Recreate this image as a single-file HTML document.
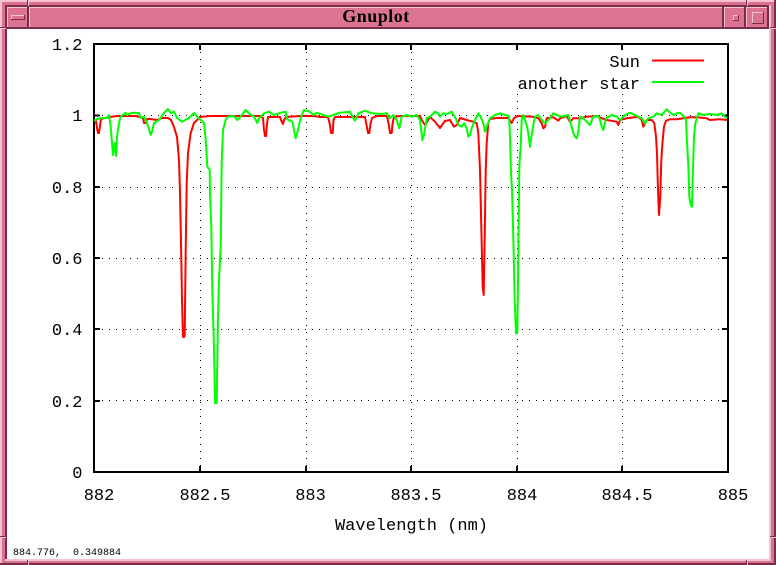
<!DOCTYPE html>
<html>
<head>
<meta charset="utf-8">
<style>
html,body{margin:0;padding:0;background:#fff;}
body{width:776px;height:565px;overflow:hidden;}
svg{display:block;}
.mono{font-family:"Liberation Mono","DejaVu Sans Mono",monospace;}
</style>
</head>
<body>
<svg width="776" height="565" viewBox="0 0 776 565" xmlns="http://www.w3.org/2000/svg">
  <!-- window frame -->
  <g shape-rendering="crispEdges">
    <rect x="0" y="0" width="776" height="565" fill="#d9718f"/>
    <rect x="0" y="0" width="776" height="2" fill="#f5c3d2"/>
    <rect x="0" y="0" width="2" height="565" fill="#f5c3d2"/>
    <rect x="0" y="563" width="776" height="2" fill="#7a2d48"/>
    <rect x="774" y="0" width="2" height="565" fill="#7a2d48"/>
    <rect x="5" y="5" width="765" height="2" fill="#7a2d48"/>
    <rect x="5" y="5" width="2" height="556" fill="#7a2d48"/>
    <rect x="769" y="5" width="2" height="556" fill="#f5c3d2"/>
    <rect x="5" y="559" width="766" height="2" fill="#f5c3d2"/>
    <rect x="27" y="0" width="1" height="6" fill="#7a2d48"/><rect x="28" y="0" width="1" height="6" fill="#f5c3d2"/>
    <rect x="746" y="0" width="1" height="6" fill="#7a2d48"/><rect x="747" y="0" width="1" height="6" fill="#f5c3d2"/>
    <rect x="0" y="27" width="6" height="1" fill="#7a2d48"/><rect x="0" y="28" width="6" height="1" fill="#f5c3d2"/>
    <rect x="770" y="27" width="6" height="1" fill="#7a2d48"/><rect x="770" y="28" width="6" height="1" fill="#f5c3d2"/>
    <rect x="0" y="536" width="6" height="1" fill="#7a2d48"/><rect x="0" y="537" width="6" height="1" fill="#f5c3d2"/>
    <rect x="770" y="536" width="6" height="1" fill="#7a2d48"/><rect x="770" y="537" width="6" height="1" fill="#f5c3d2"/>
    <rect x="27" y="560" width="1" height="5" fill="#7a2d48"/><rect x="28" y="560" width="1" height="5" fill="#f5c3d2"/>
    <rect x="746" y="560" width="1" height="5" fill="#7a2d48"/><rect x="747" y="560" width="1" height="5" fill="#f5c3d2"/>

    <rect x="7" y="7" width="22" height="22" fill="#dc7391"/>
    <rect x="7" y="7" width="22" height="1" fill="#f5c3d2"/>
    <rect x="7" y="7" width="1" height="22" fill="#f5c3d2"/>
    <rect x="7" y="27" width="22" height="2" fill="#7a2d48"/>
    <rect x="27" y="7" width="2" height="22" fill="#7a2d48"/>
    <rect x="11" y="15" width="14" height="5" fill="#dc7391"/>
    <rect x="11" y="15" width="14" height="1" fill="#f5c3d2"/>
    <rect x="11" y="15" width="1" height="5" fill="#f5c3d2"/>
    <rect x="11" y="19" width="14" height="1" fill="#7a2d48"/>
    <rect x="24" y="15" width="1" height="5" fill="#7a2d48"/>
    <rect x="29" y="7" width="695" height="22" fill="#dc7391"/>
    <rect x="29" y="7" width="695" height="1" fill="#f5c3d2"/>
    <rect x="29" y="7" width="1" height="22" fill="#f5c3d2"/>
    <rect x="29" y="27" width="695" height="2" fill="#7a2d48"/>
    <rect x="722" y="7" width="2" height="22" fill="#7a2d48"/>
    <rect x="724" y="7" width="22" height="22" fill="#dc7391"/>
    <rect x="724" y="7" width="22" height="1" fill="#f5c3d2"/>
    <rect x="724" y="7" width="1" height="22" fill="#f5c3d2"/>
    <rect x="724" y="27" width="22" height="2" fill="#7a2d48"/>
    <rect x="744" y="7" width="2" height="22" fill="#7a2d48"/>
    <rect x="733" y="15" width="6" height="6" fill="#dc7391"/>
    <rect x="733" y="15" width="6" height="1" fill="#f5c3d2"/>
    <rect x="733" y="15" width="1" height="6" fill="#f5c3d2"/>
    <rect x="733" y="20" width="6" height="1" fill="#7a2d48"/>
    <rect x="738" y="15" width="1" height="6" fill="#7a2d48"/>
    <rect x="746" y="7" width="23" height="22" fill="#dc7391"/>
    <rect x="746" y="7" width="23" height="1" fill="#f5c3d2"/>
    <rect x="746" y="7" width="1" height="22" fill="#f5c3d2"/>
    <rect x="746" y="27" width="23" height="2" fill="#7a2d48"/>
    <rect x="767" y="7" width="2" height="22" fill="#7a2d48"/>
    <rect x="752" y="12" width="12" height="12" fill="#dc7391"/>
    <rect x="752" y="12" width="12" height="1" fill="#f5c3d2"/>
    <rect x="752" y="12" width="1" height="12" fill="#f5c3d2"/>
    <rect x="752" y="23" width="12" height="1" fill="#7a2d48"/>
    <rect x="763" y="12" width="1" height="12" fill="#7a2d48"/>

    <rect x="7" y="29" width="762" height="530" fill="#ffffff"/>
  </g>
  <text x="376" y="22" text-anchor="middle" font-family="Liberation Serif, serif" font-weight="bold" font-size="18" letter-spacing="0.5" fill="#000">Gnuplot</text>

  <!-- grid -->
  <g stroke="#000" stroke-width="1" stroke-dasharray="1 6" shape-rendering="crispEdges" fill="none">
    <line x1="95" y1="115.5" x2="727" y2="115.5"/>
    <line x1="95" y1="187.5" x2="727" y2="187.5"/>
    <line x1="95" y1="258.5" x2="727" y2="258.5"/>
    <line x1="95" y1="329.5" x2="727" y2="329.5"/>
    <line x1="95" y1="400.5" x2="727" y2="400.5"/>
    <line x1="200.5" y1="45" x2="200.5" y2="471"/>
    <line x1="306.5" y1="45" x2="306.5" y2="471"/>
    <line x1="411.5" y1="45" x2="411.5" y2="471"/>
    <line x1="517.5" y1="45" x2="517.5" y2="471"/>
    <line x1="622.5" y1="45" x2="622.5" y2="471"/>
  </g>
  <rect x="505" y="51" width="221" height="40" fill="#fff"/>

  <rect x="94" y="44" width="634" height="428" fill="none" stroke="#000" stroke-width="2" shape-rendering="crispEdges"/>
  <g stroke="#000" stroke-width="2" shape-rendering="crispEdges">
    <line x1="94" y1="115.5" x2="100" y2="115.5"/><line x1="722" y1="115.5" x2="728" y2="115.5"/>
    <line x1="94" y1="187" x2="100" y2="187"/><line x1="722" y1="187" x2="728" y2="187"/>
    <line x1="94" y1="258" x2="100" y2="258"/><line x1="722" y1="258" x2="728" y2="258"/>
    <line x1="94" y1="329" x2="100" y2="329"/><line x1="722" y1="329" x2="728" y2="329"/>
    <line x1="94" y1="401" x2="100" y2="401"/><line x1="722" y1="401" x2="728" y2="401"/>
    <line x1="200" y1="44" x2="200" y2="50"/><line x1="200" y1="466" x2="200" y2="472"/>
    <line x1="306" y1="44" x2="306" y2="50"/><line x1="306" y1="466" x2="306" y2="472"/>
    <line x1="411" y1="44" x2="411" y2="50"/><line x1="411" y1="466" x2="411" y2="472"/>
    <line x1="517" y1="44" x2="517" y2="50"/><line x1="517" y1="466" x2="517" y2="472"/>
    <line x1="622" y1="44" x2="622" y2="50"/><line x1="622" y1="466" x2="622" y2="472"/>
  </g>

  <g class="mono" font-size="17" fill="#000" text-anchor="end">
    <text x="82.5" y="50">1.2</text>
    <text x="82.5" y="121">1</text>
    <text x="82.5" y="193">0.8</text>
    <text x="82.5" y="264">0.6</text>
    <text x="82.5" y="335">0.4</text>
    <text x="82.5" y="407">0.2</text>
    <text x="82.5" y="478">0</text>
  </g>
  <g class="mono" font-size="17" fill="#000" text-anchor="middle">
    <text x="99" y="500">882</text>
    <text x="205" y="500">882.5</text>
    <text x="310.5" y="500">883</text>
    <text x="416" y="500">883.5</text>
    <text x="522" y="500">884</text>
    <text x="627" y="500">884.5</text>
    <text x="733" y="500">885</text>
    <text x="411.5" y="530">Wavelength (nm)</text>
  </g>

  <g class="mono" font-size="17" fill="#000" text-anchor="end">
    <text x="640" y="67">Sun</text>
    <text x="640" y="89">another star</text>
  </g>
  <line x1="652" y1="60.5" x2="704" y2="60.5" stroke="#ff0000" stroke-width="2"/>
  <line x1="652" y1="82" x2="704" y2="82" stroke="#00ff00" stroke-width="2"/>

  <polyline fill="none" stroke="#ff0000" stroke-width="2" stroke-linejoin="round" points="94,120 96,121 97,128 98,133 99,133 100,126 101,119 105,118 110,117 117,116 125,116 135,116 140,117 143,118 144,123 146,123 147,119 150,119 157,120 162,118 168,118 171,120 174,127 177,137 179,160 180,193 181,243 182,300 183,337 184,337 184.7,335 185.7,250 186.7,183 188,153 190.7,133 194,123 200,117 210,116 230,116 250,116 260,116 263,118 264,130 265,136 266,136 267,124 268,117 280,117 281,120 283,124 284,120 286,117 300,116 314,116 320,117 328,117 330,125 331,133 332.7,133 333.5,120 335,117 360,117 365,117 366.7,126 368,133 369.3,133 370.5,124 372,118 377,116 387,116 389,126 390,133 391.7,133 392.5,124 394,117 400,116 420,116 421.7,120 425,125 430,117 435,121.7 440,128 445,121 450,120 454,126.7 456.7,125 460,118 466.7,120 473.3,121.7 476.7,123.3 478.3,133 480,170 481.3,227 482.7,287 483.7,295 484.7,237 485.7,170 486.7,143 488.3,123 490,119 496.7,118 508.3,118 511.7,123 514,118 518.3,116 533,116.7 538.3,118.3 541.7,123.3 543.3,128.3 545,127 546.7,118.3 553.3,117.3 558.3,120.7 560,118.3 566.7,116 570,121.7 573.3,118.3 580,118.3 586.7,116.7 596.7,116 601.7,118.3 606.7,120 616.7,121.7 618.3,125 620,120 626.7,118.3 638.3,116.7 641.7,120 643.3,126.7 645,123.3 646.7,120 651.7,120 654.3,123.3 656,136.7 657,153.3 658,190 659,215 660.3,196.7 661.3,160 662.7,140 664,126.7 666,120.7 670,119.3 676.7,119.3 683.3,118.3 690,117.3 696.7,117.3 706.7,118.3 710,120 720,119.3 727,120"/>

  <polyline fill="none" stroke="#00ff00" stroke-width="2" stroke-linejoin="round" points="94,120.7 97,119 102,118 107,118 109,115 110.7,126.7 112,143 113,155 114.7,143 116,156 117,136.7 119,123 120.7,116.7 125.7,112.7 127,115 132,112.7 139,113 140.7,118 144,116.7 147,123 150.7,135 152,131.7 154,123 159,120 164,113 168,109 170.7,113 174,111.7 177,118 182,121.7 189,118 194,113 197,116.7 200.7,120 204,123 205.7,140 207.3,166.7 209.7,170 210,193 211.3,226.7 212.3,290 214,348 215,403 216.7,403 218,316.7 219,280 220.7,246.7 221.7,161.7 223,130 225.7,120 228,116.7 234,116 237.3,120 240.7,116.7 245.7,110 250.7,115 254,116.7 257.3,123 259,118.3 264,113.3 269,111.7 274,115 280.7,112.7 285.7,111.7 287.3,119.3 292.3,121.7 295.7,138.3 298,130 300.7,118 304,110 310,111.7 313.3,115 316.7,112.7 323.3,115 328.3,116.7 333.3,115 340,112.7 350,111.7 353.3,118.3 355,120.7 358.3,113.3 365,110.7 371.7,113.3 381.7,114 386.7,113.3 390,118.3 393.3,115 396.7,120 399.3,128.3 401.7,116.7 406.7,115 411.7,116.7 416.7,115 420,120 422.3,140 424,135 426.7,118.3 430,116.7 435,111.7 438.3,113.3 440,116.7 443.3,113.3 446.7,114 451.7,111.7 455.7,118.3 458.3,125 461.7,126.7 464,123.3 466.7,128.3 468.3,136.7 470,135 471.7,128.3 475,120 478.3,113.3 480.7,116.7 483.3,123.3 485,131.7 486.7,126.7 490,118.3 495,115 500,113.3 505,115 509,116 510,136.7 511,173.3 512,190 513.3,236.7 514.7,300 516,333.3 517.3,333.3 518.3,260 519.3,166.7 520.7,146.7 521.7,120 523.3,115 526.7,125 528.3,133.3 530,146.7 531.7,135 533.3,125 535,116.7 538.3,115 541.7,120 545,123.3 550,118.3 553.3,113.3 556.7,115 561.7,116.7 568.3,115 571.7,126.7 573.3,133.3 575,136.7 576.7,138.3 578.3,131.7 580,116.7 583.3,118.3 586.7,121.7 590,125 593.3,116.7 598.3,116 600,120 601.7,126.7 603.3,130 606,118.3 611.7,115 616.7,116.7 620,120 625,115 630,112.7 635,115 641.7,118.3 645,123.3 648.3,118.3 653.3,116.7 656.7,113.3 661.7,115 666.7,109.3 670,112.7 673.3,115 676.7,113.3 680,112.7 683.3,116 686,120 686.7,136.7 688.3,165 689.3,196.7 690.7,205 692,206.7 692.7,178.3 694,136.7 695.3,123.3 698.3,113.3 703.3,115 710,114 716.7,115 721.7,113.3 725,116.7 727,118.3"/>

  <text class="mono" x="13" y="555" font-size="10" fill="#000" xml:space="preserve">884.776,  0.349884</text>
</svg>
</body>
</html>
